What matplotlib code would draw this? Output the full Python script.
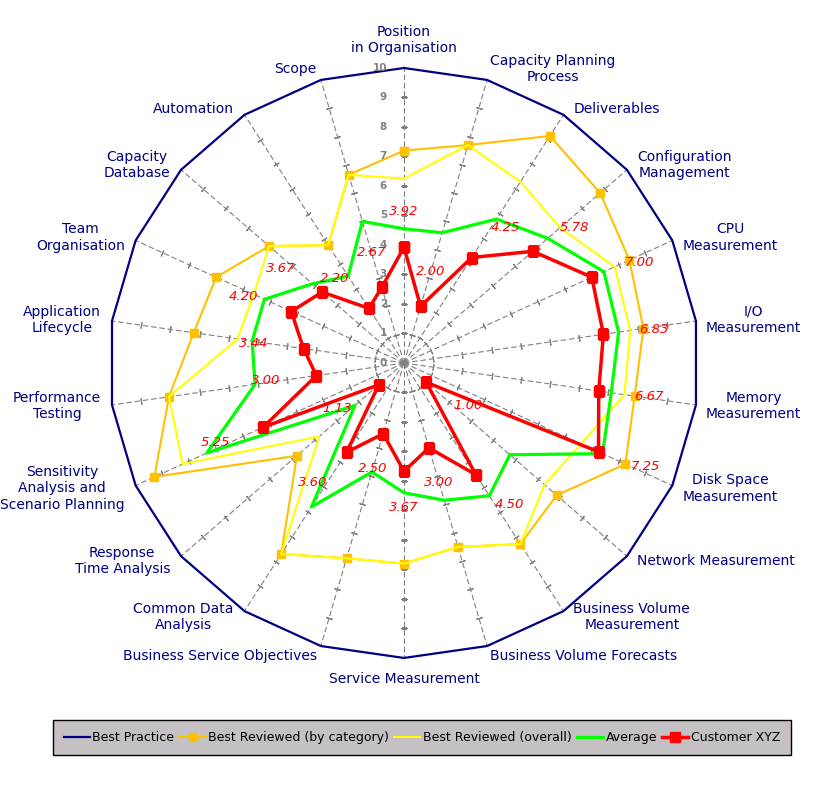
import numpy as np
import matplotlib.pyplot as plt

categories = ["Position\nin Organisation", "Capacity Planning\nProcess", "Deliverables",
              "Configuration\nManagement", "CPU\nMeasurement", "I/O\nMeasurement",
              "Memory\nMeasurement", "Disk Space\nMeasurement", "Network Measurement",
              "Business Volume\nMeasurement", "Business Volume Forecasts", "Service Measurement",
              "Business Service Objectives", "Common Data\nAnalysis", "Response\nTime Analysis",
              "Sensitivity\nAnalysis and\nScenario Planning", "Performance\nTesting",
              "Application\nLifecycle", "Team\nOrganisation", "Capacity\nDatabase",
              "Automation", "Scope"]

best_practice = [10] * 22
best_category = [7.2, 7.7, 9.15, 8.8, 8.4, 8.2, 7.9, 8.25, 6.85, 7.3, 6.5,
                 6.8, 6.9, 7.7, 4.8, 9.3, 8.05, 7.2, 7.0, 6.05, 4.75, 6.65]
best_overall = [6.25, 7.7, 7.3, 7.0, 7.85, 7.75, 7.55, 6.6, 6.3, 7.3, 6.5,
                6.8, 6.9, 7.7, 3.8, 8.25, 8.05, 5.7, 5.6, 6.05, 4.75, 6.65]
average = [4.55, 4.6, 5.8, 6.45, 7.45, 7.35, 7.1, 7.4, 4.75, 5.35, 4.85,
           4.4, 3.85, 5.8, 2.2, 7.35, 5.1, 5.2, 5.2, 4.1, 3.5, 5.0]
customer = [3.92, 2.00, 4.25, 5.78, 7.00, 6.83, 6.67, 7.25, 1.00, 4.50, 3.00,
            3.67, 2.50, 3.60, 1.13, 5.25, 3.00, 3.44, 4.20, 3.67, 2.20, 2.67]
radial_ticks = list(range(0, 11))

n = len(categories)
theta = np.linspace(0, 2 * np.pi, n, endpoint=False)
th_c = np.append(theta, theta[0])


def closed(v):
    return np.append(v, v[0])


fig = plt.figure(figsize=(8.2, 7.86), dpi=100)
ax = fig.add_axes([0.1329, 0.1629, 0.7195, 0.7506], projection="polar")
ax.set_theta_zero_location("N")
ax.set_theta_direction(-1)
ax.set_ylim(0, 10)
ax.grid(False)
ax.spines["polar"].set_visible(False)
ax.set_xticks([])
ax.set_yticks([])

# spokes with small ticks
for t in theta:
    ax.plot([t, t], [0, 10], color="#808080", lw=0.8, ls=(0, (5, 2.5)), zorder=1)
    ang = 90 - np.degrees(t)
    ax.plot([t] * 9, range(1, 10), ls="none", marker=(2, 2, ang), ms=4.5,
            mew=0.8, color="#808080", zorder=1)

l_bp, = ax.plot(th_c, closed(best_practice), color="#000080", lw=1.6,
                clip_on=False, zorder=2, label="Best Practice")
l_bc, = ax.plot(th_c, closed(best_category), color="#FFC000", lw=1.5, marker="s",
                ms=5.5, clip_on=False, zorder=3, label="Best Reviewed (by category)")
l_bo, = ax.plot(th_c, closed(best_overall), color="#FFFF00", lw=1.5,
                clip_on=False, zorder=3, label="Best Reviewed (overall)")
l_av, = ax.plot(th_c, closed(average), color="#00FF00", lw=2.3,
                zorder=4, label="Average")
l_cu, = ax.plot(th_c, closed(customer), color="#FF0000", lw=2.5, marker="s",
                ms=7.5, zorder=5, label="Customer XYZ")

# value labels of customer series
for t, v in zip(theta, customer):
    s, c = np.sin(t), np.cos(t)
    if abs(s) < 0.3:
        ha = "center"
    else:
        ha = "left" if s > 0 else "right"
    ax.annotate(f"{v:.2f}", xy=(t, v), xytext=(36 * s, 36 * c), textcoords="offset pixels",
                ha=ha, va="center", color="#FF0000", fontsize=9.5, style="italic", zorder=6)

# category labels
for t, lab in zip(theta, categories):
    s, c = np.sin(t), np.cos(t)
    if abs(s) < 0.1:
        ha = "center"
        dx = 0
        dy = 13 if c > 0 else -14
        va = "bottom" if c > 0 else "top"
    elif abs(s) < 0.3:
        ha = "left" if s > 0 else "right"
        dx = 3 if s > 0 else -4
        dy = 11 if c > 0 else -10
        va = "center"
    else:
        ha = "left" if s > 0 else "right"
        dx = 10 if s > 0 else -11
        dy = 7 * c
        va = "center"
    ax.annotate(lab, xy=(t, 10), xytext=(dx, dy), textcoords="offset pixels",
                ha=ha, va=va, multialignment="center", color="#000080", fontsize=10,
                annotation_clip=False)

# radial tick labels
for v in radial_ticks:
    ax.annotate(str(v), xy=(0, v), xytext=(-17, 0), textcoords="offset pixels",
                ha="right", va="center", color="#808080", fontsize=7.5, fontweight="bold",
                annotation_clip=False)

leg = fig.legend(handles=[l_bp, l_bc, l_bo, l_av, l_cu], loc="center",
                 bbox_to_anchor=(53 / 820, (786 - 757) / 786, 738 / 820, 39 / 786),
                 mode="expand", ncol=5, fontsize=9, fancybox=False, edgecolor="black",
                 facecolor="#c4c0c4", framealpha=1, handlelength=2.1, handletextpad=0.2,
                 columnspacing=0.8, borderpad=0.85, borderaxespad=0)
leg.get_frame().set_linewidth(1.0)

fig.savefig("out.png", dpi=100)
